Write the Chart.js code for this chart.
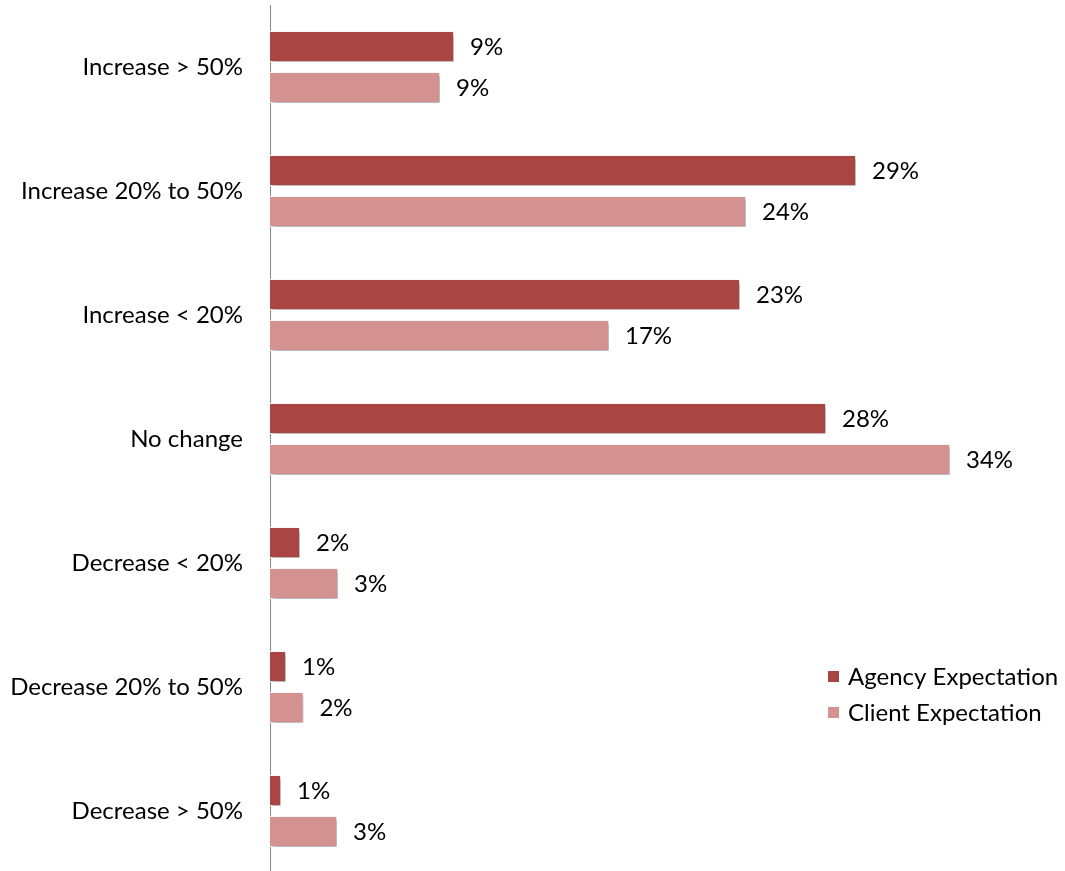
<!DOCTYPE html>
<html>
<head>
<meta charset="utf-8">
<script src="https://cdn.jsdelivr.net/npm/chart.js@4/dist/chart.umd.min.js"></script>
<style>
  html, body { margin: 0; padding: 0; background: #fff; overflow: hidden; }
  #c { display: block; }
</style>
</head>
<body>
<canvas id="c" width="1065" height="873"></canvas>
<script>
// categories + two series (bar lengths, labels as printed)
const CATEGORIES = [
  'Increase > 50%', 'Increase 20% to 50%', 'Increase < 20%', 'No change',
  'Decrease < 20%', 'Decrease 20% to 50%', 'Decrease > 50%',
];
const AGENCY = [9.2, 29.3, 23.5, 27.8, 1.5, 0.8, 0.55];
const CLIENT = [8.5, 23.8, 16.95, 34.0, 3.4, 1.67, 3.35];
const AGENCY_LABELS = ['9%', '29%', '23%', '28%', '2%', '1%', '1%'];
const CLIENT_LABELS = ['9%', '24%', '17%', '34%', '3%', '2%', '3%'];
const SERIES_NAMES = ['Agency Expectation', 'Client Expectation'];

const DARK = '#A94644', LIGHT = '#D39290';
const FONT = 'Lato, "Open Sans", sans-serif';

// Excel-ish drop shadow under the bars
const barShadow = {
  id: 'barShadow',
  beforeDatasetsDraw(chart) {
    const ctx = chart.ctx;
    ctx.save();
    ctx.shadowColor = 'rgba(0,0,0,0.35)';
    ctx.shadowBlur = 4;
    ctx.shadowOffsetX = 2;
    ctx.shadowOffsetY = 2;
  },
  afterDatasetsDraw(chart) { chart.ctx.restore(); },
};

// value labels to the right of each bar
const valueLabels = {
  id: 'valueLabels',
  afterDatasetsDraw(chart) {
    const ctx = chart.ctx;
    const texts = [AGENCY_LABELS, CLIENT_LABELS];
    ctx.save();
    ctx.font = '24px ' + FONT;
    ctx.fillStyle = '#000';
    ctx.textAlign = 'left';
    ctx.textBaseline = 'middle';
    chart.data.datasets.forEach((ds, di) => {
      chart.getDatasetMeta(di).data.forEach((bar, i) => {
        ctx.fillText(texts[di][i], bar.x + 16, bar.y + 1);
      });
    });
    ctx.restore();
  },
};

// legend drawn inside the plot area, lower right
const insideLegend = {
  id: 'insideLegend',
  afterDraw(chart) {
    const ctx = chart.ctx;
    const colors = [DARK, LIGHT];
    ctx.save();
    ctx.font = '24px ' + FONT;
    ctx.textBaseline = 'middle';
    SERIES_NAMES.forEach((name, i) => {
      const y = 677 + i * 36;
      ctx.fillStyle = colors[i];
      ctx.fillRect(828, y - 6, 11, 11);
      ctx.fillStyle = '#000';
      ctx.fillText(name, 848, y);
    });
    ctx.restore();
  },
};

new Chart(document.getElementById('c'), {
  type: 'bar',
  data: {
    labels: CATEGORIES,
    datasets: [
      { label: SERIES_NAMES[0], data: AGENCY, backgroundColor: DARK, borderColor: '#fff', borderWidth: 1 },
      { label: SERIES_NAMES[1], data: CLIENT, backgroundColor: LIGHT, borderColor: '#fff', borderWidth: 1 },
    ],
  },
  options: {
    indexAxis: 'y',
    responsive: false,
    animation: false,
    categoryPercentage: 0.66,
    barPercentage: 0.76,
    layout: { padding: { top: 5, right: 0, bottom: 0, left: 0 } },
    plugins: { legend: { display: false }, tooltip: { enabled: false } },
    scales: {
      x: { display: false, min: 0, max: 39.75 },
      y: {
        grid: { display: false, drawTicks: false },
        border: { display: true, color: '#868686', width: 1 },
        ticks: { color: '#000', padding: 27, font: { family: FONT, size: 24 } },
        afterFit(scale) {
          scale.width = 270;
          scale.paddingTop = 0;
          scale.paddingBottom = 0;
        },
      },
    },
  },
  plugins: [barShadow, valueLabels, insideLegend],
});
</script>
</body>
</html>
